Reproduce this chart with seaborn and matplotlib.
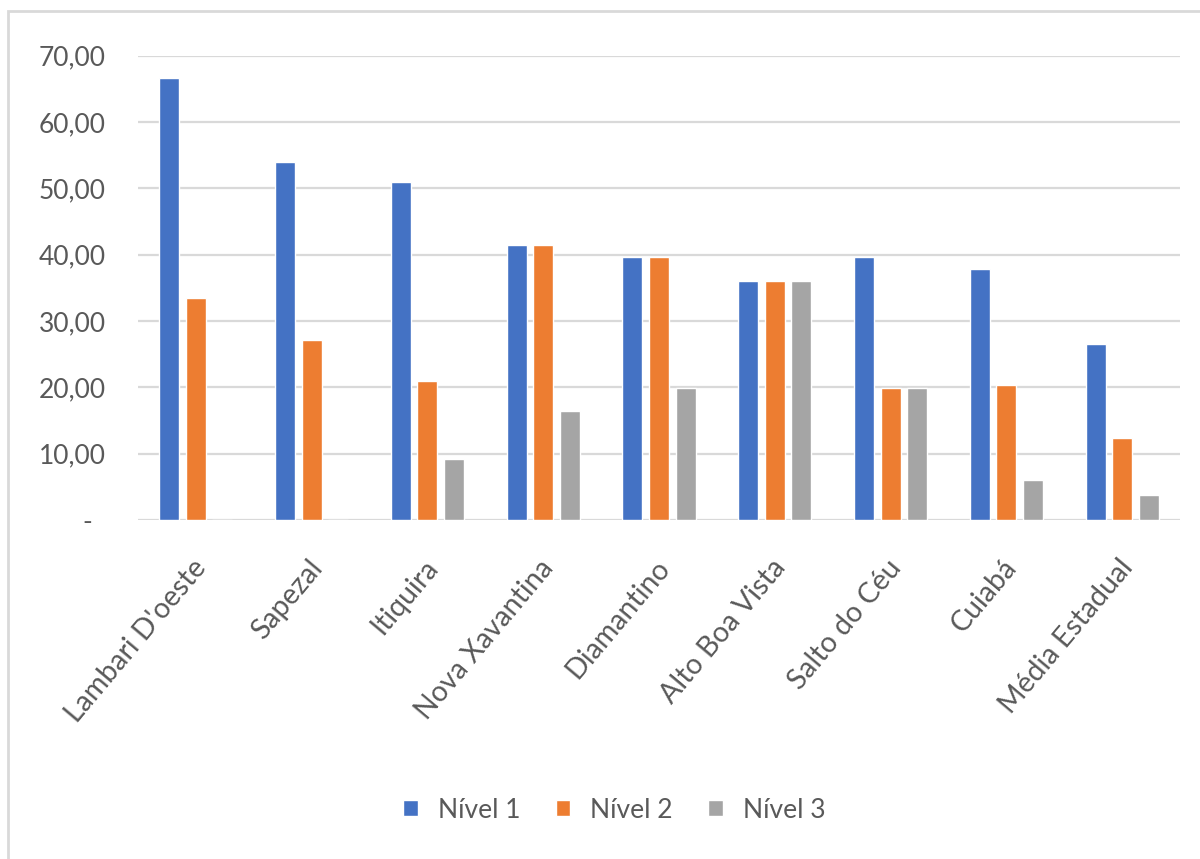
import numpy as np
import pandas as pd
import matplotlib
matplotlib.use("Agg")
import matplotlib.pyplot as plt
import matplotlib.transforms as mtransforms
from matplotlib.patches import Rectangle
import seaborn as sns

# Data
municipios = ["Lambari D'oeste", "Sapezal", "Itiquira", "Nova Xavantina", "Diamantino",
              "Alto Boa Vista", "Salto do Céu", "Cuiabá", "Média Estadual"]
nivel_1 = [66.6, 54.0, 50.9, 41.5, 39.7, 36.0, 39.7, 37.9, 26.6]
nivel_2 = [33.4, 27.1, 20.9, 41.5, 39.7, 36.0, 19.9, 20.4, 12.3]
nivel_3 = [0.0, 0.0, 9.2, 16.4, 19.9, 36.0, 19.9, 6.0, 3.8]
series = ["Nível 1", "Nível 2", "Nível 3"]
y_ticks = [0, 10, 20, 30, 40, 50, 60, 70]

cores = ["#4472C4", "#ED7D31", "#A5A5A5"]
texto = "#595959"
grade = "#D9D9D9"

df = pd.DataFrame({
    "Município": municipios * 3,
    "Nível": np.repeat(series, len(municipios)),
    "Valor": nivel_1 + nivel_2 + nivel_3,
})

sns.set_theme(style="white")
plt.rcParams["font.family"] = ["Lato", "DejaVu Sans"]

fig = plt.figure(figsize=(12, 8.59), dpi=100)
ax = fig.add_axes([138 / 1200, 1 - 520 / 859, 1042 / 1200, (520 - 55.7) / 859])

sns.barplot(data=df, x="Município", y="Valor", hue="Nível", order=municipios,
            hue_order=series, palette=cores, saturation=1, errorbar=None,
            width=0.687, gap=0.245, ax=ax)

ax.set_ylim(0, 70)
ax.set_xlim(-0.5, len(municipios) - 0.5)
ax.set_xlabel("")
ax.set_ylabel("")
for s in ax.spines.values():
    s.set_visible(False)
ax.yaxis.grid(True, color=grade, lw=1.6)
ax.set_axisbelow(True)

ax.set_yticks(y_ticks)
ax.set_yticklabels(["-" if v == 0 else f"{v:.2f}".replace(".", ",") for v in y_ticks])
ax.tick_params(axis="y", length=0, pad=23, labelsize=19, labelcolor=texto)

ax.set_xticks(range(len(municipios)))
ax.set_xticklabels(municipios, rotation=50, ha="right", va="top", rotation_mode="anchor")
ax.tick_params(axis="x", length=0, pad=25, labelsize=20.5, labelcolor=texto)
for lab in ax.get_xticklabels():
    lab.set_transform(lab.get_transform() +
                      mtransforms.ScaledTranslation(-0.04, 0, fig.dpi_scale_trans))

# zero label sits further left (accounting-style dash)
for lab in ax.get_yticklabels():
    if lab.get_text() == "-":
        lab.set_transform(lab.get_transform() +
                          mtransforms.ScaledTranslation(-0.14, 0, fig.dpi_scale_trans))

handles, labels = ax.get_legend_handles_labels()
ax.legend(handles, labels, loc="center", bbox_to_anchor=(0.512, 1 - 810 / 859),
          bbox_transform=fig.transFigure, ncol=3, frameon=False, fontsize=19,
          labelcolor=texto, handlelength=0.55, handleheight=0.55,
          handletextpad=0.75, columnspacing=1.35)

# outer chart border
fig.add_artist(Rectangle((8 / 1200, -0.1), 1.2, (859 - 11) / 859 + 0.1,
                         transform=fig.transFigure, fill=False, ec=grade, lw=2))

fig.savefig("out.png", dpi=100, facecolor="white")
